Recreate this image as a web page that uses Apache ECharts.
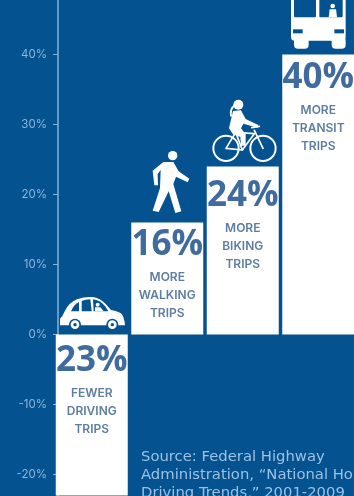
<!DOCTYPE html>
<html>
<head>
<meta charset="utf-8">
<style>html,body{margin:0;padding:0;background:#04528f}#c{width:354px;height:496px}</style>
<script src="https://cdn.jsdelivr.net/npm/echarts@6/dist/echarts.min.js"></script>
</head>
<body>
<div id="c"></div>
<script>
// Change in trips by mode, 2001-2009
const modes = ['Driving', 'Walking', 'Biking', 'Transit'];
const changePercent = [-23, 16, 24, 40];
const captions = [
  ['FEWER', 'DRIVING', 'TRIPS'],
  ['MORE', 'WALKING', 'TRIPS'],
  ['MORE', 'BIKING', 'TRIPS'],
  ['MORE', 'TRANSIT', 'TRIPS']
];
const sourceLines = [
  'Source: Federal Highway',
  'Administration, \u201CNational Household',
  'Driving Trends,\u201D 2001-2009'
];

const BG = '#04528f';
const WHITE = '#ffffff';
const labelNudge = [4, 0, 7, 1];

const fill = (d, color) => ({ type: 'path', shape: { pathData: d }, style: { fill: color || WHITE } });
const line = (d, w) => ({
  type: 'path',
  shape: { pathData: d },
  style: { fill: null, stroke: WHITE, lineWidth: w || 6, lineCap: 'round', lineJoin: 'round' }
});
const disc = (cx, cy, r, color) => ({ type: 'circle', shape: { cx, cy, r }, style: { fill: color || WHITE } });
const ring = (cx, cy, r, w) => ({ type: 'circle', shape: { cx, cy, r }, style: { fill: null, stroke: WHITE, lineWidth: w } });

// Pictograms are drawn on a 3x local grid and hung above the top of each column
const icons = [
  { dx: -36.75, dy: -44.5, parts: [
    fill('M15 106 L15 86 L22 78 L30 62 Q42 38 66 28 Q90 19 112 21 Q136 24 152 42 L168 60 Q192 64 200 72 Q208 82 210 106 Z'),
    fill('M48 64 Q56 44 72 36 L72 64 Z', BG),
    fill('M80 33 Q92 28 106 28 L110 64 L80 64 Z', BG),
    fill('M114 28 Q134 30 150 48 L160 64 L116 64 Z', BG),
    disc(128, 44, 6),
    fill('M120 52 L136 52 L146 64 L120 64 Z'),
    disc(60, 104, 18, BG), disc(60, 104, 13), disc(60, 104, 5, BG),
    disc(172, 104, 18, BG), disc(172, 104, 13), disc(172, 104, 5, BG)
  ] },
  { dx: -27.25, dy: -74.5, parts: [
    disc(98, 23, 14),
    fill('M70 42 L100 42 L116 70 L148 92 L143 103 L108 86 L100 108 L124 190 L106 195 L86 130 L56 192 L38 188 L60 120 L62 66 L53 78 L54 112 L43 112 L38 68 Z')
  ] },
  { dx: -37.75, dy: -71.5, parts: [
    ring(63, 160, 38, 6), ring(174, 160, 38, 6),
    line('M63 160 L92 112 L148 116 L112 165 Z', 5),
    line('M92 112 L112 165', 5),
    line('M148 106 L174 160', 5),
    line('M140 98 L163 94', 5),
    disc(100, 29, 15),
    line('M90 30 Q74 42 78 62', 6),
    fill('M84 48 L108 46 L122 72 L160 90 L158 98 L115 86 L108 100 L122 118 L122 152 L108 152 L106 126 L84 118 L72 100 Z')
  ] },
  { dx: -38.25, dy: -54.5, parts: [
    fill('M33 -20 L197 -20 L197 110 Q197 122 186 122 L44 122 Q33 122 33 110 Z'),
    fill('M42 -20 L108 -20 L108 48 Q108 52 104 52 L46 52 Q42 52 42 48 Z', BG),
    fill('M118 -20 L188 -20 L188 48 Q188 52 184 52 L122 52 Q118 52 118 48 Z', BG),
    disc(158, 18, 7),
    fill('M149 28 L168 28 L171 52 L146 52 Z'),
    fill('M39 88 L68 88 L68 100 L39 100 Z', BG),
    fill('M163 88 L192 88 L192 100 L163 100 Z', BG),
    fill('M42 118 L86 118 L86 134 Q86 146 74 146 L54 146 Q42 146 42 134 Z'),
    fill('M155 118 L197 118 L197 134 Q197 146 185 146 L167 146 Q155 146 155 134 Z')
  ] }
];

const chart = echarts.init(document.getElementById('c'), null, { renderer: 'canvas' });

chart.setOption({
  backgroundColor: BG,
  animation: false,
  title: {
    text: sourceLines.join('\n'),
    left: 141,
    top: 448,
    padding: 0,
    textStyle: {
      color: '#9cc1e4',
      fontFamily: 'DejaVu Sans',
      fontSize: 14.8,
      fontWeight: 'normal',
      lineHeight: 18
    }
  },
  grid: { left: 54, width: 302, top: -15.5, height: 560, containLabel: false, outerBoundsMode: 'none' },
  xAxis: {
    type: 'category',
    data: modes,
    axisLine: { show: false },
    axisTick: { show: false },
    axisLabel: { show: false }
  },
  yAxis: {
    type: 'value',
    min: -30,
    max: 50,
    interval: 10,
    offset: -4,
    axisLine: { show: true, lineStyle: { color: '#86b4df', width: 1.5 } },
    axisTick: { show: true, length: 5, lineStyle: { color: '#86b4df', width: 1 } },
    axisLabel: {
      formatter: '{value}%',
      color: '#8db6dc',
      fontFamily: 'Inter',
      fontSize: 11.5,
      margin: 11
    },
    splitLine: { show: false }
  },
  series: [
    {
      type: 'bar',
      barWidth: 72,
      itemStyle: { color: WHITE },
      data: changePercent.map((v, i) => ({
        value: v,
        label: {
          show: true,
          position: 'insideTop',
          distance: 0,
          offset: [0, labelNudge[i]],
          formatter: '{big|' + Math.abs(v) + '%}\n' + captions[i].map(t => '{small|' + t + '}').join('\n'),
          rich: {
            big: { fontFamily: 'Open Sans', fontWeight: 700, fontSize: 35, lineHeight: 46, color: '#3f6b9f', align: 'center' },
            small: { fontFamily: 'Inter', fontWeight: 600, fontSize: 12, lineHeight: 18, color: '#5d7da3', align: 'center' }
          }
        }
      }))
    },
    {
      type: 'custom',
      silent: true,
      z: 3,
      clip: false,
      data: changePercent.map((v, i) => [i, Math.max(v, 0)]),
      renderItem(params, api) {
        const origin = api.coord([api.value(0), api.value(1)]);
        const icon = icons[params.dataIndex];
        return {
          type: 'group',
          x: origin[0] + icon.dx,
          y: origin[1] + icon.dy,
          scaleX: 1 / 3,
          scaleY: 1 / 3,
          children: icon.parts
        };
      }
    }
  ]
});
</script>
</body>
</html>
